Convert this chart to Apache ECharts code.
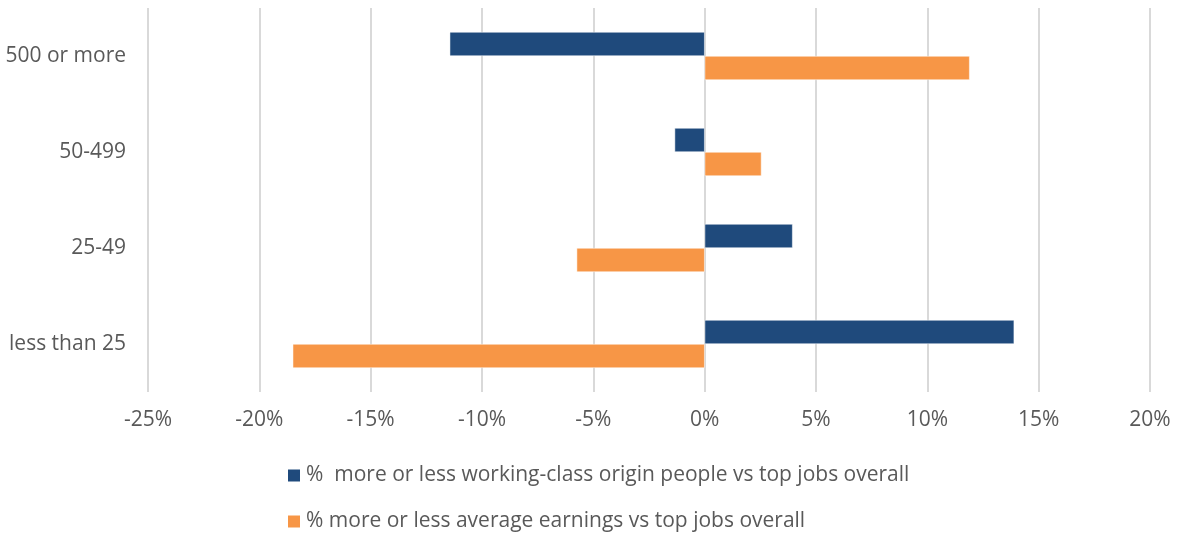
<!DOCTYPE html>
<html>
<head>
<meta charset="utf-8">
<script src="https://cdn.jsdelivr.net/npm/echarts@6/dist/echarts.min.js"></script>
<style>
  html, body { margin: 0; padding: 0; background: #fff; }
  #chart { width: 1178px; height: 533px; }
</style>
</head>
<body>
<div id="chart"></div>
<script>
// Firm size bands, listed top to bottom
const categories = ['500 or more', '50-499', '25-49', 'less than 25'];
const seriesNames = [
  '%  more or less working-class origin people vs top jobs overall',
  '% more or less average earnings vs top jobs overall'
];
// Percentage difference vs top jobs overall
const workingClassDiff = [-11.45, -1.35, 3.95, 13.9];
const earningsDiff = [11.9, 2.55, -5.75, -18.5];
const xTicks = { min: -25, max: 20, interval: 5 };

const chart = echarts.init(document.getElementById('chart'));
const font = '"Open Sans", "Liberation Sans", sans-serif';
const textColor = '#595959';
const fontSize = 21;

// One legend block per series, stacked vertically
const legendBase = {
  left: 281,
  itemWidth: 14, itemHeight: 14,
  icon: 'rect',
  textStyle: { color: textColor, fontSize: fontSize, fontFamily: font }
};

chart.setOption({
  animation: false,
  textStyle: { fontFamily: font },
  grid: { left: 148, right: 28, top: 8, bottom: 141, containLabel: false },
  xAxis: {
    type: 'value',
    min: xTicks.min, max: xTicks.max, interval: xTicks.interval,
    axisLine: { show: false },
    axisTick: { show: false },
    splitLine: { lineStyle: { color: '#d9d9d9', width: 2 } },
    axisLabel: {
      formatter: v => v + '%',
      color: textColor, fontSize: fontSize, fontFamily: font, margin: 18
    }
  },
  yAxis: {
    type: 'category',
    data: categories,
    inverse: true,
    axisLine: { show: false },
    axisTick: { show: false },
    axisLabel: { color: textColor, fontSize: fontSize, fontFamily: font, margin: 22 }
  },
  legend: [
    Object.assign({ top: 460, data: [seriesNames[0]] }, legendBase),
    Object.assign({ top: 506, data: [seriesNames[1]] }, legendBase)
  ],
  series: [
    {
      name: seriesNames[0], type: 'bar', data: workingClassDiff,
      barWidth: 24, barGap: '0%',
      itemStyle: { color: '#1f4a7c', borderColor: '#ffffff', borderWidth: 0.5 }
    },
    {
      name: seriesNames[1], type: 'bar', data: earningsDiff,
      barWidth: 24, barGap: '0%',
      itemStyle: { color: '#f79646', borderColor: '#ffffff', borderWidth: 0.5 }
    }
  ]
});
</script>
</body>
</html>
